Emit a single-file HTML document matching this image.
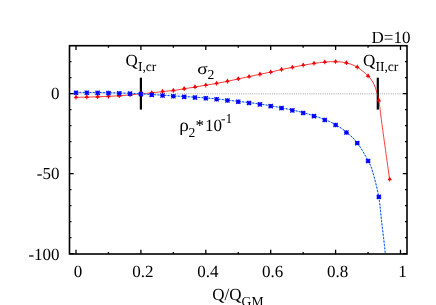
<!DOCTYPE html>
<html><head><meta charset="utf-8"><title>chart</title>
<style>html,body{margin:0;padding:0;background:#fff;width:436px;height:305px;overflow:hidden;font-family:"Liberation Serif",serif;} .tx text, .tx tspan{font-family:"Liberation Serif",serif;text-rendering:geometricPrecision;}</style>
</head><body>
<svg width="436" height="305" viewBox="0 0 436 305" style="position:absolute;left:0;top:0;will-change:transform">
<rect width="436" height="305" fill="#fff"/>
<line x1="69.5" y1="93.85" x2="407.0" y2="93.85" stroke="#a0a0a0" stroke-width="1" stroke-dasharray="1,1.2"/>
<path d="M76.00,254.00 v-4.20 M76.00,45.70 v4.20 M108.45,254.00 v-2.00 M108.45,45.70 v2.00 M140.90,254.00 v-4.20 M140.90,45.70 v4.20 M173.35,254.00 v-2.00 M173.35,45.70 v2.00 M205.80,254.00 v-4.20 M205.80,45.70 v4.20 M238.25,254.00 v-2.00 M238.25,45.70 v2.00 M270.70,254.00 v-4.20 M270.70,45.70 v4.20 M303.15,254.00 v-2.00 M303.15,45.70 v2.00 M335.60,254.00 v-4.20 M335.60,45.70 v4.20 M368.05,254.00 v-2.00 M368.05,45.70 v2.00 M400.50,254.00 v-4.20 M400.50,45.70 v4.20 M69.50,253.70 h4.20 M407.00,253.70 h-4.20 M69.50,237.70 h2.00 M407.00,237.70 h-2.00 M69.50,221.70 h2.00 M407.00,221.70 h-2.00 M69.50,205.70 h2.00 M407.00,205.70 h-2.00 M69.50,189.70 h2.00 M407.00,189.70 h-2.00 M69.50,173.70 h4.20 M407.00,173.70 h-4.20 M69.50,157.70 h2.00 M407.00,157.70 h-2.00 M69.50,141.70 h2.00 M407.00,141.70 h-2.00 M69.50,125.70 h2.00 M407.00,125.70 h-2.00 M69.50,109.70 h2.00 M407.00,109.70 h-2.00 M69.50,93.70 h4.20 M407.00,93.70 h-4.20 M69.50,77.70 h2.00 M407.00,77.70 h-2.00 M69.50,61.70 h2.00 M407.00,61.70 h-2.00 M69.50,45.70 h2.00 M407.00,45.70 h-2.00" stroke="#000" stroke-width="1.3" fill="none"/>
<line x1="140.9" y1="77.7" x2="140.9" y2="109.6" stroke="#000" stroke-width="2.2"/>
<line x1="377.8" y1="77.7" x2="377.8" y2="109.6" stroke="#000" stroke-width="2.2"/>
<clipPath id="c"><rect x="69.5" y="45.7" width="337.5" height="208.3"/></clipPath>
<g clip-path="url(#c)">
<path d="M76.00,97.30 C77.80,97.27 83.21,97.18 86.82,97.10 C90.42,97.02 94.03,96.93 97.63,96.80 C101.24,96.67 104.85,96.47 108.45,96.30 C112.06,96.13 115.66,96.03 119.27,95.80 C122.87,95.57 126.48,95.23 130.09,94.90 C133.69,94.57 137.30,94.13 140.90,93.80 C144.51,93.47 148.11,93.28 151.72,92.90 C155.32,92.52 158.93,91.90 162.54,91.50 C166.14,91.10 169.75,90.95 173.35,90.50 C176.96,90.05 180.56,89.38 184.17,88.80 C187.78,88.22 191.38,87.60 194.99,87.00 C198.59,86.40 202.20,85.80 205.80,85.20 C209.41,84.60 213.02,84.05 216.62,83.40 C220.23,82.75 223.83,82.05 227.44,81.30 C231.04,80.55 234.65,79.68 238.25,78.90 C241.86,78.12 245.47,77.37 249.07,76.60 C252.68,75.83 256.28,75.05 259.89,74.30 C263.49,73.55 267.10,72.90 270.71,72.10 C274.31,71.30 277.92,70.28 281.52,69.50 C285.13,68.72 288.73,68.12 292.34,67.40 C295.95,66.68 299.55,65.87 303.16,65.20 C306.76,64.53 310.37,63.92 313.97,63.40 C317.58,62.88 321.19,62.40 324.79,62.10 C328.40,61.80 332.00,61.47 335.61,61.60 C339.21,61.73 342.82,61.97 346.43,62.90 C350.03,63.83 353.64,65.02 357.24,67.20 C360.85,69.38 365.28,73.18 368.06,76.00 C370.84,78.82 372.38,81.17 373.90,84.10 C375.42,87.03 376.37,90.87 377.20,93.60 C378.03,96.33 378.10,95.35 378.90,100.50 C379.70,105.65 380.22,111.35 382.00,124.50 C383.78,137.65 388.33,170.25 389.60,179.40" stroke="#fa0505" stroke-width="0.78" fill="none"/>
<path d="M76.00,92.40 C77.80,92.40 83.21,92.38 86.82,92.40 C90.42,92.42 94.03,92.45 97.63,92.50 C101.24,92.55 104.85,92.62 108.45,92.70 C112.06,92.78 115.66,92.90 119.27,93.00 C122.87,93.10 126.48,93.17 130.09,93.30 C133.69,93.43 137.30,93.60 140.90,93.80 C144.51,94.00 148.11,94.27 151.72,94.50 C155.32,94.73 158.93,94.97 162.54,95.20 C166.14,95.43 169.75,95.68 173.35,95.90 C176.96,96.12 180.56,96.28 184.17,96.50 C187.78,96.72 191.38,96.97 194.99,97.20 C198.59,97.43 202.20,97.62 205.80,97.90 C209.41,98.18 213.02,98.53 216.62,98.90 C220.23,99.27 223.83,99.68 227.44,100.10 C231.04,100.52 234.65,100.98 238.25,101.40 C241.86,101.82 245.47,102.17 249.07,102.60 C252.68,103.03 256.28,103.47 259.89,104.00 C263.49,104.53 267.10,105.17 270.71,105.80 C274.31,106.43 277.92,107.10 281.52,107.80 C285.13,108.50 288.73,109.20 292.34,110.00 C295.95,110.80 299.55,111.63 303.16,112.60 C306.76,113.57 310.37,114.63 313.97,115.80 C317.58,116.97 321.19,118.13 324.79,119.60 C328.40,121.07 332.00,122.50 335.61,124.60 C339.21,126.70 342.82,129.17 346.43,132.20 C350.03,135.23 353.64,138.05 357.24,142.80 C360.85,147.55 365.48,155.87 368.06,160.70 C370.64,165.53 370.93,165.83 372.70,171.80 C374.47,177.77 377.23,188.38 378.70,196.50 C380.17,204.62 380.53,212.30 381.50,220.50 C382.47,228.70 383.87,240.12 384.50,245.70 C385.13,251.28 385.17,252.62 385.30,254.00" stroke="#70d8ff" stroke-width="0.9" fill="none"/>
<path d="M76.00,92.40 C77.80,92.40 83.21,92.38 86.82,92.40 C90.42,92.42 94.03,92.45 97.63,92.50 C101.24,92.55 104.85,92.62 108.45,92.70 C112.06,92.78 115.66,92.90 119.27,93.00 C122.87,93.10 126.48,93.17 130.09,93.30 C133.69,93.43 137.30,93.60 140.90,93.80 C144.51,94.00 148.11,94.27 151.72,94.50 C155.32,94.73 158.93,94.97 162.54,95.20 C166.14,95.43 169.75,95.68 173.35,95.90 C176.96,96.12 180.56,96.28 184.17,96.50 C187.78,96.72 191.38,96.97 194.99,97.20 C198.59,97.43 202.20,97.62 205.80,97.90 C209.41,98.18 213.02,98.53 216.62,98.90 C220.23,99.27 223.83,99.68 227.44,100.10 C231.04,100.52 234.65,100.98 238.25,101.40 C241.86,101.82 245.47,102.17 249.07,102.60 C252.68,103.03 256.28,103.47 259.89,104.00 C263.49,104.53 267.10,105.17 270.71,105.80 C274.31,106.43 277.92,107.10 281.52,107.80 C285.13,108.50 288.73,109.20 292.34,110.00 C295.95,110.80 299.55,111.63 303.16,112.60 C306.76,113.57 310.37,114.63 313.97,115.80 C317.58,116.97 321.19,118.13 324.79,119.60 C328.40,121.07 332.00,122.50 335.61,124.60 C339.21,126.70 342.82,129.17 346.43,132.20 C350.03,135.23 353.64,138.05 357.24,142.80 C360.85,147.55 365.48,155.87 368.06,160.70 C370.64,165.53 370.93,165.83 372.70,171.80 C374.47,177.77 377.23,188.38 378.70,196.50 C380.17,204.62 380.53,212.30 381.50,220.50 C382.47,228.70 383.87,240.12 384.50,245.70 C385.13,251.28 385.17,252.62 385.30,254.00" stroke="#2020ff" stroke-width="0.9" fill="none" stroke-dasharray="1.7,1.7"/>
</g>
<path d="M76.00,94.60 l2.3,3.6 h-1.8 v1.3 h-1 v-1.3 h-1.8 z" fill="#f00000"/>
<path d="M86.82,94.40 l2.3,3.6 h-1.8 v1.3 h-1 v-1.3 h-1.8 z" fill="#f00000"/>
<path d="M97.63,94.10 l2.3,3.6 h-1.8 v1.3 h-1 v-1.3 h-1.8 z" fill="#f00000"/>
<path d="M108.45,93.60 l2.3,3.6 h-1.8 v1.3 h-1 v-1.3 h-1.8 z" fill="#f00000"/>
<path d="M119.27,93.10 l2.3,3.6 h-1.8 v1.3 h-1 v-1.3 h-1.8 z" fill="#f00000"/>
<path d="M130.09,92.20 l2.3,3.6 h-1.8 v1.3 h-1 v-1.3 h-1.8 z" fill="#f00000"/>
<path d="M140.90,91.10 l2.3,3.6 h-1.8 v1.3 h-1 v-1.3 h-1.8 z" fill="#f00000"/>
<path d="M151.72,90.20 l2.3,3.6 h-1.8 v1.3 h-1 v-1.3 h-1.8 z" fill="#f00000"/>
<path d="M162.54,88.80 l2.3,3.6 h-1.8 v1.3 h-1 v-1.3 h-1.8 z" fill="#f00000"/>
<path d="M173.35,87.80 l2.3,3.6 h-1.8 v1.3 h-1 v-1.3 h-1.8 z" fill="#f00000"/>
<path d="M184.17,86.10 l2.3,3.6 h-1.8 v1.3 h-1 v-1.3 h-1.8 z" fill="#f00000"/>
<path d="M194.99,84.30 l2.3,3.6 h-1.8 v1.3 h-1 v-1.3 h-1.8 z" fill="#f00000"/>
<path d="M205.80,82.50 l2.3,3.6 h-1.8 v1.3 h-1 v-1.3 h-1.8 z" fill="#f00000"/>
<path d="M216.62,80.70 l2.3,3.6 h-1.8 v1.3 h-1 v-1.3 h-1.8 z" fill="#f00000"/>
<path d="M227.44,78.60 l2.3,3.6 h-1.8 v1.3 h-1 v-1.3 h-1.8 z" fill="#f00000"/>
<path d="M238.25,76.20 l2.3,3.6 h-1.8 v1.3 h-1 v-1.3 h-1.8 z" fill="#f00000"/>
<path d="M249.07,73.90 l2.3,3.6 h-1.8 v1.3 h-1 v-1.3 h-1.8 z" fill="#f00000"/>
<path d="M259.89,71.60 l2.3,3.6 h-1.8 v1.3 h-1 v-1.3 h-1.8 z" fill="#f00000"/>
<path d="M270.71,69.40 l2.3,3.6 h-1.8 v1.3 h-1 v-1.3 h-1.8 z" fill="#f00000"/>
<path d="M281.52,66.80 l2.3,3.6 h-1.8 v1.3 h-1 v-1.3 h-1.8 z" fill="#f00000"/>
<path d="M292.34,64.70 l2.3,3.6 h-1.8 v1.3 h-1 v-1.3 h-1.8 z" fill="#f00000"/>
<path d="M303.16,62.50 l2.3,3.6 h-1.8 v1.3 h-1 v-1.3 h-1.8 z" fill="#f00000"/>
<path d="M313.97,60.70 l2.3,3.6 h-1.8 v1.3 h-1 v-1.3 h-1.8 z" fill="#f00000"/>
<path d="M324.79,59.40 l2.3,3.6 h-1.8 v1.3 h-1 v-1.3 h-1.8 z" fill="#f00000"/>
<path d="M335.61,58.90 l2.3,3.6 h-1.8 v1.3 h-1 v-1.3 h-1.8 z" fill="#f00000"/>
<path d="M346.43,60.20 l2.3,3.6 h-1.8 v1.3 h-1 v-1.3 h-1.8 z" fill="#f00000"/>
<path d="M357.24,64.50 l2.3,3.6 h-1.8 v1.3 h-1 v-1.3 h-1.8 z" fill="#f00000"/>
<path d="M368.06,73.30 l2.3,3.6 h-1.8 v1.3 h-1 v-1.3 h-1.8 z" fill="#f00000"/>
<path d="M378.88,97.80 l2.3,3.6 h-1.8 v1.3 h-1 v-1.3 h-1.8 z" fill="#f00000"/>
<path d="M389.69,176.70 l2.3,3.6 h-1.8 v1.3 h-1 v-1.3 h-1.8 z" fill="#f00000"/>
<path d="M73.70,92.75 h4.6 M76.00,90.55 v4.4 M73.90,90.65 l4.2,4.2 M78.10,90.65 l-4.2,4.2" stroke="#0000ff" stroke-width="1.25" fill="none"/>
<path d="M84.52,92.75 h4.6 M86.82,90.55 v4.4 M84.72,90.65 l4.2,4.2 M88.92,90.65 l-4.2,4.2" stroke="#0000ff" stroke-width="1.25" fill="none"/>
<path d="M95.33,92.85 h4.6 M97.63,90.65 v4.4 M95.53,90.75 l4.2,4.2 M99.73,90.75 l-4.2,4.2" stroke="#0000ff" stroke-width="1.25" fill="none"/>
<path d="M106.15,93.05 h4.6 M108.45,90.85 v4.4 M106.35,90.95 l4.2,4.2 M110.55,90.95 l-4.2,4.2" stroke="#0000ff" stroke-width="1.25" fill="none"/>
<path d="M116.97,93.35 h4.6 M119.27,91.15 v4.4 M117.17,91.25 l4.2,4.2 M121.37,91.25 l-4.2,4.2" stroke="#0000ff" stroke-width="1.25" fill="none"/>
<path d="M127.79,93.65 h4.6 M130.09,91.45 v4.4 M127.99,91.55 l4.2,4.2 M132.19,91.55 l-4.2,4.2" stroke="#0000ff" stroke-width="1.25" fill="none"/>
<path d="M138.60,94.15 h4.6 M140.90,91.95 v4.4 M138.80,92.05 l4.2,4.2 M143.00,92.05 l-4.2,4.2" stroke="#0000ff" stroke-width="1.25" fill="none"/>
<path d="M149.42,94.85 h4.6 M151.72,92.65 v4.4 M149.62,92.75 l4.2,4.2 M153.82,92.75 l-4.2,4.2" stroke="#0000ff" stroke-width="1.25" fill="none"/>
<path d="M160.24,95.55 h4.6 M162.54,93.35 v4.4 M160.44,93.45 l4.2,4.2 M164.64,93.45 l-4.2,4.2" stroke="#0000ff" stroke-width="1.25" fill="none"/>
<path d="M171.05,96.25 h4.6 M173.35,94.05 v4.4 M171.25,94.15 l4.2,4.2 M175.45,94.15 l-4.2,4.2" stroke="#0000ff" stroke-width="1.25" fill="none"/>
<path d="M181.87,96.85 h4.6 M184.17,94.65 v4.4 M182.07,94.75 l4.2,4.2 M186.27,94.75 l-4.2,4.2" stroke="#0000ff" stroke-width="1.25" fill="none"/>
<path d="M192.69,97.55 h4.6 M194.99,95.35 v4.4 M192.89,95.45 l4.2,4.2 M197.09,95.45 l-4.2,4.2" stroke="#0000ff" stroke-width="1.25" fill="none"/>
<path d="M203.50,98.25 h4.6 M205.80,96.05 v4.4 M203.70,96.15 l4.2,4.2 M207.90,96.15 l-4.2,4.2" stroke="#0000ff" stroke-width="1.25" fill="none"/>
<path d="M214.32,99.25 h4.6 M216.62,97.05 v4.4 M214.52,97.15 l4.2,4.2 M218.72,97.15 l-4.2,4.2" stroke="#0000ff" stroke-width="1.25" fill="none"/>
<path d="M225.14,100.45 h4.6 M227.44,98.25 v4.4 M225.34,98.35 l4.2,4.2 M229.54,98.35 l-4.2,4.2" stroke="#0000ff" stroke-width="1.25" fill="none"/>
<path d="M235.95,101.75 h4.6 M238.25,99.55 v4.4 M236.16,99.65 l4.2,4.2 M240.35,99.65 l-4.2,4.2" stroke="#0000ff" stroke-width="1.25" fill="none"/>
<path d="M246.77,102.95 h4.6 M249.07,100.75 v4.4 M246.97,100.85 l4.2,4.2 M251.17,100.85 l-4.2,4.2" stroke="#0000ff" stroke-width="1.25" fill="none"/>
<path d="M257.59,104.35 h4.6 M259.89,102.15 v4.4 M257.79,102.25 l4.2,4.2 M261.99,102.25 l-4.2,4.2" stroke="#0000ff" stroke-width="1.25" fill="none"/>
<path d="M268.41,106.15 h4.6 M270.71,103.95 v4.4 M268.61,104.05 l4.2,4.2 M272.81,104.05 l-4.2,4.2" stroke="#0000ff" stroke-width="1.25" fill="none"/>
<path d="M279.22,108.15 h4.6 M281.52,105.95 v4.4 M279.42,106.05 l4.2,4.2 M283.62,106.05 l-4.2,4.2" stroke="#0000ff" stroke-width="1.25" fill="none"/>
<path d="M290.04,110.35 h4.6 M292.34,108.15 v4.4 M290.24,108.25 l4.2,4.2 M294.44,108.25 l-4.2,4.2" stroke="#0000ff" stroke-width="1.25" fill="none"/>
<path d="M300.86,112.95 h4.6 M303.16,110.75 v4.4 M301.06,110.85 l4.2,4.2 M305.26,110.85 l-4.2,4.2" stroke="#0000ff" stroke-width="1.25" fill="none"/>
<path d="M311.67,116.15 h4.6 M313.97,113.95 v4.4 M311.87,114.05 l4.2,4.2 M316.07,114.05 l-4.2,4.2" stroke="#0000ff" stroke-width="1.25" fill="none"/>
<path d="M322.49,119.95 h4.6 M324.79,117.75 v4.4 M322.69,117.85 l4.2,4.2 M326.89,117.85 l-4.2,4.2" stroke="#0000ff" stroke-width="1.25" fill="none"/>
<path d="M333.31,124.95 h4.6 M335.61,122.75 v4.4 M333.51,122.85 l4.2,4.2 M337.71,122.85 l-4.2,4.2" stroke="#0000ff" stroke-width="1.25" fill="none"/>
<path d="M344.12,132.55 h4.6 M346.43,130.35 v4.4 M344.32,130.45 l4.2,4.2 M348.53,130.45 l-4.2,4.2" stroke="#0000ff" stroke-width="1.25" fill="none"/>
<path d="M354.94,143.15 h4.6 M357.24,140.95 v4.4 M355.14,141.05 l4.2,4.2 M359.34,141.05 l-4.2,4.2" stroke="#0000ff" stroke-width="1.25" fill="none"/>
<path d="M365.76,161.05 h4.6 M368.06,158.85 v4.4 M365.96,158.95 l4.2,4.2 M370.16,158.95 l-4.2,4.2" stroke="#0000ff" stroke-width="1.25" fill="none"/>
<path d="M376.58,196.85 h4.6 M378.88,194.65 v4.4 M376.78,194.75 l4.2,4.2 M380.98,194.75 l-4.2,4.2" stroke="#0000ff" stroke-width="1.25" fill="none"/>
<rect x="69.5" y="45.7" width="337.5" height="208.3" fill="none" stroke="#000" stroke-width="1.6"/>
<g class="tx" fill="#000">
<text x="59.5" y="99.4" font-size="17.0" text-anchor="end">0</text>
<text x="59.5" y="179.4" font-size="17.0" text-anchor="end">-50</text>
<text x="59.6" y="260.1" font-size="17.0" text-anchor="end">-100</text>
<text x="78.0" y="276.8" font-size="17.0" text-anchor="middle">0</text>
<text x="142.9" y="276.8" font-size="17.0" text-anchor="middle">0.2</text>
<text x="207.8" y="276.8" font-size="17.0" text-anchor="middle">0.4</text>
<text x="272.7" y="276.8" font-size="17.0" text-anchor="middle">0.6</text>
<text x="337.6" y="276.8" font-size="17.0" text-anchor="middle">0.8</text>
<text x="402.5" y="276.8" font-size="17.0" text-anchor="middle">1</text>
<text x="410.4" y="43.3" font-size="17.0" text-anchor="end">D=10</text>
<text x="212.3" y="300.3" font-size="17">Q/Q<tspan font-size="13.6" dy="5.4">GM</tspan></text>
<text x="125.6" y="65.6" font-size="17">Q<tspan font-size="13.6" dy="5.3">I,cr</tspan></text>
<text x="363.1" y="65.6" font-size="17">Q<tspan font-size="13.6" dy="5.3">II,cr</tspan></text>
<text transform="translate(197.3,73.8) scale(1.14,0.95)" font-size="17">σ</text><text x="207.4" y="78.9" font-size="13.6">2</text>
<text transform="translate(179.3,131.2) scale(1.13,1.07)" font-size="17">ρ</text><text x="188.4" y="136.6" font-size="13.6">2<tspan font-size="17" dy="-5.2" dx="0.4">*</tspan><tspan font-size="17" dx="0.8">10</tspan><tspan font-size="13.6" dy="-8.7" dx="-0.9">-1</tspan></text>
</g>
</svg>
</body></html>
